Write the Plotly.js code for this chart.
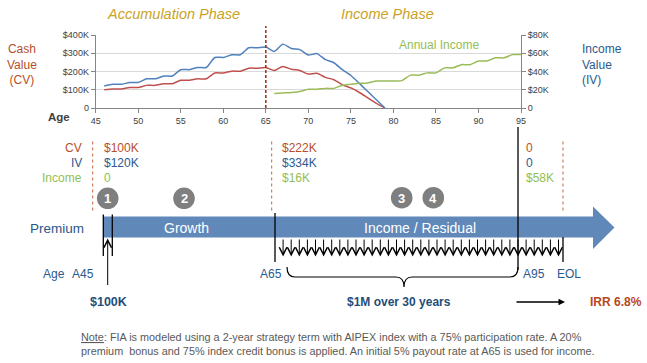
<!DOCTYPE html>
<html><head><meta charset="utf-8">
<script src="https://cdn.plot.ly/plotly-3.0.1.min.js"></script>
<style>html,body{margin:0;padding:0;background:#fff}#chart{width:647px;height:363px}</style>
</head><body><div id="chart"></div>
<script>
// ---------- data ----------
const ageCVIV = [46,47,48,49,50,51,52,53,54,55,56,57,58,59,60,61,62,63,64,65,66,67,68,69,70,71,72,73,74,75,76,77,78,79];
const cashValue = [100,104,104,112,112,124,124,133,133,152,152,160,160,192,192,202,202,218,218,222,
                   205,228,212,206,186,190,168,155,127,110,85,55,25,0].map(v=>v*1000);
const incomeValue = [120,130,130,140,140,160,160,175,175,210,210,222,222,277,277,292,292,330,330,334,
                     310,350,326,320,290,298,265,248,210,178,135,90,45,0].map(v=>v*1000);
const ageIncome = [66,67,68,69,70,71,72,73,74,75,76,77,78,79,80,81,82,83,84,85,86,87,88,89,90,91,92,93,94,95];
const annualIncome = [16,16.5,17,18,20.5,20.5,21.5,21.5,25,26,27,27.5,29.5,29.5,29.5,30,36,36,38.5,38.5,
                      44,44,47.5,47.5,51.5,51.5,55,55,58.5,58.5].map(v=>v*1000);
const xTicks = [45,50,55,60,65,70,75,80,85,90,95];
const leftTickVals = [0,100000,200000,300000,400000];
const leftTickText = ['0','$100K','$200K','$300K','$400K'];
const rightTickVals = [0,20000,40000,60000,80000];
const rightTickText = ['0','$20K','$40K','$60K','$80K'];
const rowLabels = ['CV','IV','Income'];
const startValues = ['$100K','$120K','0'];
const a65Values = ['$222K','$334K','$16K'];
const a95Values = ['0','0','$58K'];
const stepNumbers = ['1','2','3','4'];
const incomeArrowAges = [66,67,68,69,70,71,72,73,74,75,76,77,78,79,80,81,82,83,84,85,86,87,88,89,90,91,92,93,94,95,96,97,98,99,100];
const timelineLabels = ['A65','A95','EOL'];

// ---------- helpers ----------
const W=647,H=363;
const X=p=>p/W, Y=p=>1-p/H;
const cCV='#B5502A', cIV='#2B5A8E', cInc='#92BE53', gold='#C9A227';
const FF='Liberation Sans, Arial, sans-serif';
const NARROW='Liberation Sans Narrow, Arial Narrow, Liberation Sans, sans-serif';

const traces = [
  {x:ageCVIV, y:cashValue, type:'scatter', mode:'lines', line:{color:'#C0504D', width:1.5, shape:'spline', smoothing:0.6}, xaxis:'x', yaxis:'y', hoverinfo:'skip'},
  {x:ageCVIV, y:incomeValue, type:'scatter', mode:'lines', line:{color:'#4F81BD', width:1.5, shape:'spline', smoothing:0.6}, xaxis:'x', yaxis:'y', hoverinfo:'skip'},
  {x:ageIncome, y:annualIncome, type:'scatter', mode:'lines', line:{color:'#9BBB59', width:1.5, shape:'spline', smoothing:0.6}, xaxis:'x', yaxis:'y2', hoverinfo:'skip'},
  {x:incomeArrowAges, y:incomeArrowAges.map(()=>0.5), type:'scatter', mode:'none', xaxis:'x2', yaxis:'y3', hoverinfo:'skip'}
];

const ann = [];
const shapes = [];
function txt(t, x, y, o){ ann.push(Object.assign({text:t, x:X(x), y:Y(y), xref:'paper', yref:'paper', showarrow:false, xanchor:'center', yanchor:'middle', font:{family:FF, size:12, color:'#404040'}}, o||{})); }

// top titles
txt('<i>Accumulation Phase</i>',173,14,{font:{family:FF,size:14.5,color:gold}});
txt('<i>Income Phase</i>',387.5,14,{font:{family:FF,size:14.5,color:gold}});
txt('Cash<br>Value<br>(CV)',22,64,{font:{family:FF,size:12,color:cCV}});
txt('Income<br>Value<br>(IV)',580,64,{xanchor:'left',align:'left',font:{family:FF,size:12,color:cIV}});
txt('Annual Income',439,45,{font:{family:FF,size:12,color:cInc}});
txt('<b>Age</b>',59,117,{font:{family:FF,size:11.5,color:'#404040'}});

// row labels and values
const rowY=[148,163.5,178];
const rowCol=[cCV,cIV,cInc];
rowLabels.forEach((t,i)=>txt(t,84,rowY[i],{xanchor:'right',font:{family:FF,size:12,color:rowCol[i]}}));
startValues.forEach((t,i)=>txt(t,101.5,rowY[i],{xanchor:'left',font:{family:FF,size:12,color:rowCol[i]}}));
a65Values.forEach((t,i)=>txt(t,280,rowY[i],{xanchor:'left',font:{family:FF,size:12,color:rowCol[i]}}));
a95Values.forEach((t,i)=>txt(t,523.5,rowY[i],{xanchor:'left',font:{family:FF,size:12,color:rowCol[i]}}));

// dashed separators
[92.7,271.7,563].forEach(x=>shapes.push({type:'line',xref:'paper',yref:'paper',x0:X(x),x1:X(x),y0:Y(141.5),y1:Y(211.5),line:{color:'#C8643C',width:1,dash:'dot'}}));
// chart dashed line at 65
shapes.push({type:'line',xref:'x',yref:'paper',x0:65,x1:65,y0:Y(108),y1:Y(26),line:{color:'#A0280A',width:1.5,dash:'3px,2px'}});

// step circles
const circ=[[107.7,198.3],[184,198.3],[401.7,197.7],[433.3,197.7]];
circ.forEach((c,i)=>{
  shapes.push({type:'circle',xref:'paper',yref:'paper',x0:X(c[0]-10.8),x1:X(c[0]+10.8),y0:Y(c[1]+10.8),y1:Y(c[1]-10.8),fillcolor:'#7F7F7F',line:{width:0}});
  txt('<b>'+stepNumbers[i]+'</b>',c[0],c[1]+0.5,{font:{family:FF,size:13,color:'#ffffff'}});
});

// big arrow
function pth(pts){ return pts.map((p,i)=>(i?'L':'M')+X(p[0]).toFixed(5)+','+Y(p[1]).toFixed(5)).join(' ')+' Z'; }
shapes.push({type:'path',xref:'paper',yref:'paper',path:pth([[103.3,216.5],[593,216.5],[593,206.5],[614.5,227.5],[593,249],[593,237.5],[103.3,237.5]]),fillcolor:'#6088B9',line:{width:0},layer:'below'});
txt('Premium',86,228,{xanchor:'right',font:{family:FF,size:13.5,color:'#2A5788'}});
txt('Growth',187,228,{font:{family:FF,size:14,color:'#ffffff'}});
txt('Income / Residual',420,228,{font:{family:FF,size:14,color:'#ffffff'}});

// black vertical lines
const vl=[[103.3,214.5,256],[112.3,214.5,256],[275,213,262],[518,127,270],[563,237,262]];
vl.forEach(v=>shapes.push({type:'line',xref:'paper',yref:'paper',x0:X(v[0]),x1:X(v[0]),y0:Y(v[1]),y1:Y(v[2]),line:{color:'#000000',width:1.3}}));

// premium up arrow
ann.push({text:'',xref:'paper',yref:'paper',x:X(107.7),y:Y(238.5),ax:0,ay:48,showarrow:true,arrowhead:5,arrowsize:1.5,arrowwidth:1,arrowcolor:'#000000'});
// income down arrows
incomeArrowAges.forEach(a=>ann.push({text:'',xref:'x2',yref:'paper',x:a,y:Y(256.5),ax:0,ay:-18.5,showarrow:true,arrowhead:5,arrowsize:1.5,arrowwidth:1,arrowcolor:'#000000'}));

// bracket
function bp(){
  const f=(x,y)=>X(x).toFixed(5)+','+Y(y).toFixed(5);
  return 'M'+f(287,267)+' Q'+f(287,277)+' '+f(295,277)+' L'+f(396,277)+' Q'+f(404,277)+' '+f(404,287)+' Q'+f(404,277)+' '+f(412,277)+' L'+f(510,277)+' Q'+f(518,277)+' '+f(518,267);
}
shapes.push({type:'path',xref:'paper',yref:'paper',path:bp(),line:{color:'#000000',width:1.2}});

// timeline labels
txt('Age',53.5,274,{font:{family:FF,size:12,color:cIV}});
txt('A45',83,274,{font:{family:FF,size:12,color:cIV}});
const tlx=[271,534,568.5];
timelineLabels.forEach((t,i)=>txt(t,tlx[i],274,{font:{family:FF,size:12,color:cIV}}));

// bottom amounts
txt('<b>$100K</b>',108,302,{font:{family:NARROW,size:12.5,color:'#1F4E79'}});
txt('<b>$1M over 30 years</b>',399.5,302,{font:{family:NARROW,size:12,color:'#1F4E79'}});
txt('<b>IRR 6.8%</b>',616,302,{font:{family:NARROW,size:12,color:'#B8461B'}});
ann.push({text:'',xref:'paper',yref:'paper',x:X(565),y:Y(302),ax:-50,ay:0,showarrow:true,arrowhead:2,arrowsize:1,arrowwidth:1.3,arrowcolor:'#000000'});

// note
txt('<u>Note</u>: FIA is modeled using a 2-year strategy term with AIPEX index with a 75% participation rate. A 20%',79,337,{xanchor:'left',font:{family:FF,size:10.85,color:'#595959'}});
txt('premium  bonus and 75% index credit bonus is applied. An initial 5% payout rate at A65 is used for income.',79,351,{xanchor:'left',font:{family:FF,size:10.85,color:'#595959'}});

const tickFont={family:FF,size:9,color:'#404040'};
const layout = {
  width:W, height:H, margin:{l:0,r:0,t:0,b:0}, showlegend:false,
  paper_bgcolor:'#ffffff', plot_bgcolor:'rgba(0,0,0,0)',
  xaxis:{domain:[95.7/W,521/W], range:[45,95], tickvals:xTicks, ticks:'outside', ticklen:4, tickcolor:'#868686', showline:true, linecolor:'#868686', linewidth:1, showgrid:false, zeroline:false, tickfont:tickFont, anchor:'y', fixedrange:true},
  yaxis:{domain:[1-108/H,1-35/H], range:[0,400000], tickvals:leftTickVals, ticktext:leftTickText, ticks:'outside', ticklen:4, tickcolor:'#868686', showline:true, linecolor:'#868686', gridcolor:'#D9D9D9', gridwidth:1, zeroline:false, tickfont:tickFont, anchor:'x'},
  yaxis2:{overlaying:'y', side:'right', range:[0,80000], tickvals:rightTickVals, ticktext:rightTickText, ticks:'outside', ticklen:4, tickcolor:'#868686', showline:true, linecolor:'#868686', showgrid:false, zeroline:false, tickfont:tickFont, anchor:'x'},
  xaxis2:{domain:[0,1], range:[65-275/8.1, 65+(W-275)/8.1], visible:false, anchor:'y3'},
  yaxis3:{domain:[0,0.3], range:[0,1], visible:false, anchor:'x2'},
  shapes:shapes, annotations:ann
};
Plotly.newPlot('chart', traces, layout, {staticPlot:true, displayModeBar:false});
</script></body></html>
